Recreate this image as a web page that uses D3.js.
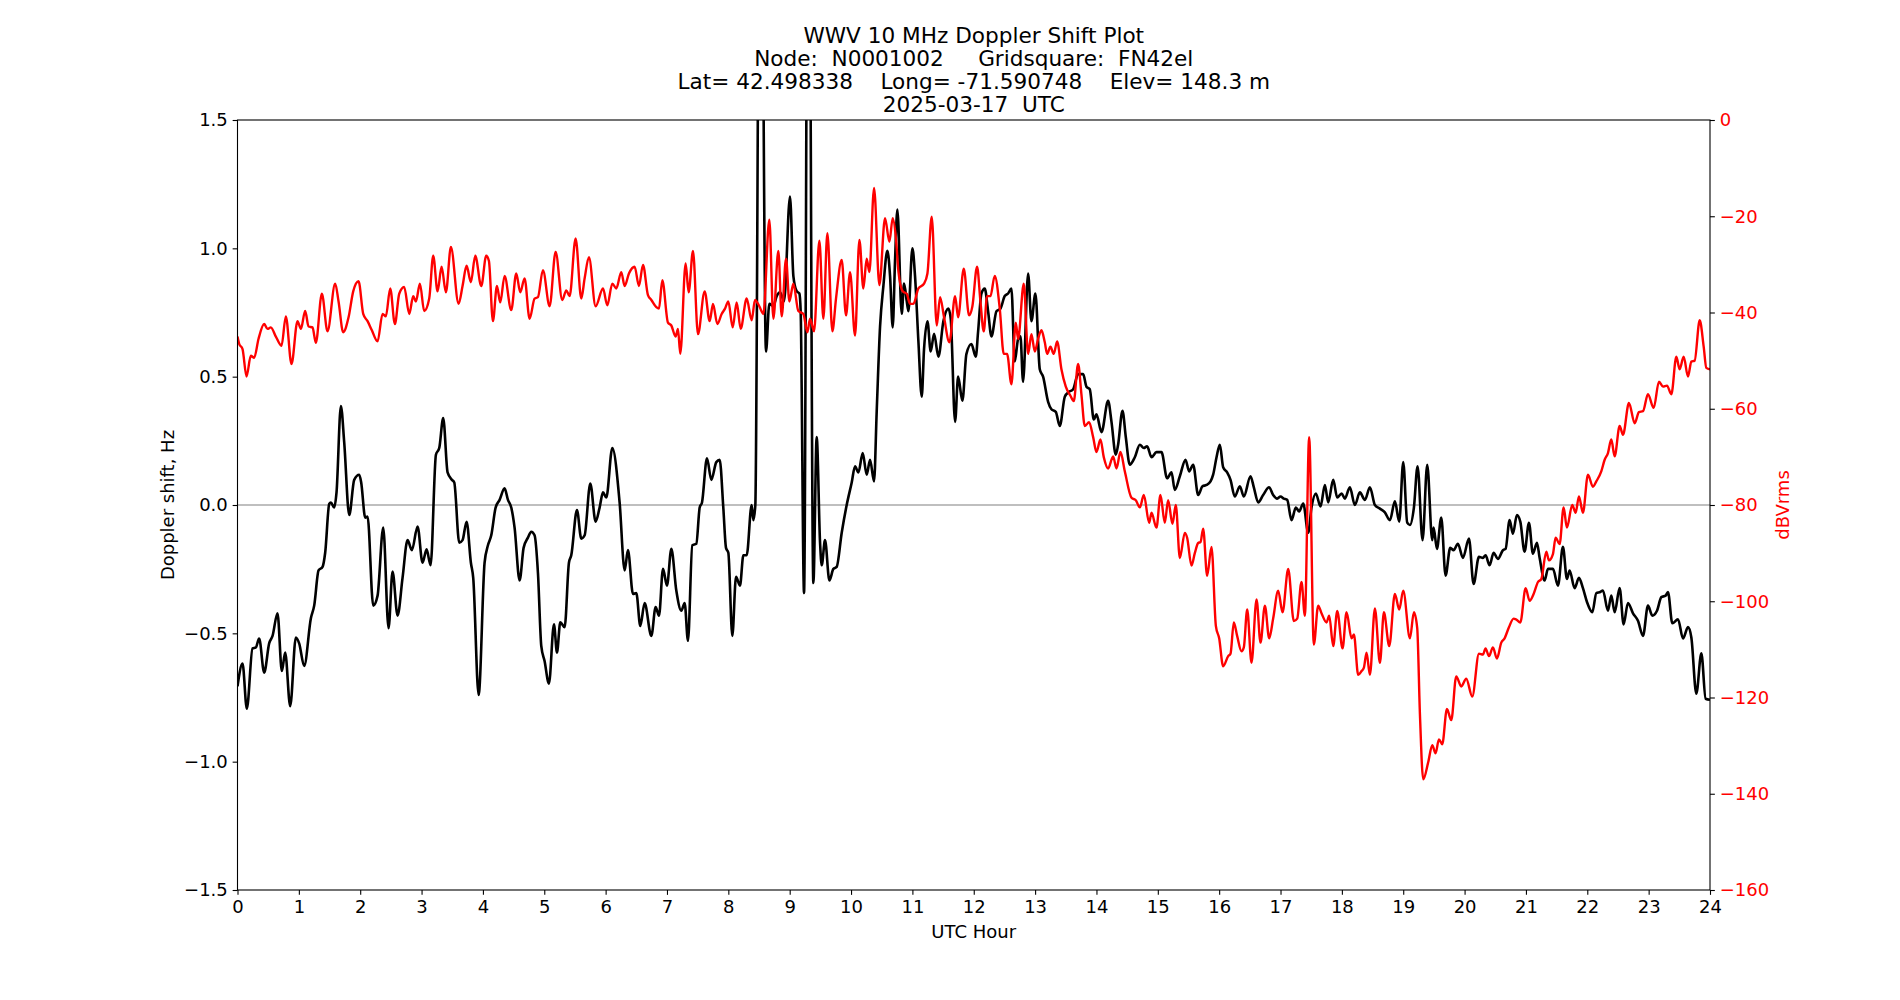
<!DOCTYPE html>
<html lang="en">
<head>
    <meta charset="UTF-8">
    <title>WWV 10 MHz Doppler Shift Plot</title>
    <script src="https://d3js.org/d3.v7.min.js"></script>
    <style>
        body { margin: 0; background: #fff; }
        text { font-family: "DejaVu Sans", sans-serif; }
    </style>
</head>
<body>
    <svg id="chart" width="1900" height="1000"></svg>

    <script>
        // Doppler shift (Hz)
        const dopHours = [
            0.000, 0.082, 0.152, 0.245, 0.299, 0.353, 0.435, 0.516, 0.571, 0.652, 0.723, 0.777, 0.859, 0.951,
            1.005, 1.087, 1.196, 1.250, 1.321, 1.386, 1.429, 1.495, 1.522, 1.576, 1.614, 1.685, 1.739, 1.821, 1.902, 1.984,
            2.016, 2.082, 2.120, 2.212, 2.283, 2.375, 2.462, 2.527, 2.609, 2.690, 2.772, 2.842, 2.935,
            3.016, 3.082, 3.147, 3.234, 3.288, 3.353, 3.424, 3.495, 3.533, 3.614, 3.668, 3.734, 3.804, 3.842, 3.930,
            4.027, 4.082, 4.136, 4.207, 4.272, 4.353, 4.408, 4.462, 4.516, 4.598, 4.663, 4.734, 4.788, 4.842, 4.897, 4.951,
            5.005, 5.076, 5.158, 5.207, 5.261, 5.332, 5.402, 5.440, 5.533, 5.603, 5.658, 5.750, 5.837, 5.902, 5.957,
            6.011, 6.109, 6.228, 6.310, 6.364, 6.446, 6.500, 6.565, 6.636, 6.745, 6.815, 6.870, 6.935,
            7.000, 7.071, 7.152, 7.234, 7.288, 7.342, 7.413, 7.478, 7.533, 7.571, 7.652, 7.723, 7.804, 7.859, 7.918, 7.962,
            8.000, 8.065, 8.125, 8.190, 8.245, 8.299, 8.380, 8.408, 8.440, 8.522, 8.614, 8.668, 8.734, 8.788, 8.842, 8.908,
            9.005, 9.060, 9.114, 9.158, 9.179, 9.234, 9.304, 9.386, 9.440, 9.495, 9.522, 9.576, 9.647, 9.712, 9.766, 9.848, 9.929,
            10.011, 10.065, 10.120, 10.190, 10.255, 10.310, 10.375, 10.418, 10.473, 10.527, 10.592, 10.636, 10.679, 10.717, 10.755, 10.826, 10.864, 10.908, 10.935,
            11.000, 11.043, 11.098, 11.152, 11.190, 11.245, 11.299, 11.353, 11.424, 11.505, 11.587, 11.625, 11.696, 11.745, 11.815, 11.880, 11.962,
            12.033, 12.071, 12.125, 12.179, 12.234, 12.288, 12.370, 12.435, 12.505, 12.560, 12.614, 12.668, 12.723, 12.761, 12.804, 12.886, 12.940,
            13.005, 13.076, 13.130, 13.212, 13.266, 13.337, 13.402, 13.484, 13.554, 13.620, 13.701, 13.783, 13.837, 13.891, 13.957,
            14.000, 14.082, 14.190, 14.245, 14.315, 14.353, 14.424, 14.478, 14.543, 14.625, 14.707, 14.772, 14.826, 14.897, 14.978,
            15.060, 15.152, 15.223, 15.277, 15.359, 15.451, 15.511, 15.576, 15.658, 15.728, 15.793, 15.859, 15.902, 15.957,
            16.011, 16.065, 16.130, 16.185, 16.255, 16.337, 16.402, 16.511, 16.565, 16.636, 16.717, 16.815, 16.880, 16.946,
            17.000, 17.054, 17.109, 17.179, 17.250, 17.304, 17.370, 17.451, 17.505, 17.576, 17.652, 17.723, 17.777, 17.859, 17.924, 17.995,
            18.049, 18.130, 18.212, 18.293, 18.375, 18.457, 18.538, 18.620, 18.701, 18.783, 18.864, 18.935,
            19.000, 19.065, 19.109, 19.174, 19.234, 19.315, 19.391, 19.473, 19.495, 19.549, 19.620, 19.690, 19.766, 19.821, 19.891, 19.973,
            20.071, 20.147, 20.234, 20.299, 20.342, 20.408, 20.473, 20.543, 20.625, 20.668, 20.734, 20.788, 20.853, 20.908, 20.978,
            21.049, 21.114, 21.179, 21.223, 21.304, 21.359, 21.440, 21.522, 21.603, 21.668, 21.712, 21.793, 21.864, 21.929, 21.995,
            22.082, 22.147, 22.212, 22.255, 22.337, 22.391, 22.446, 22.527, 22.592, 22.663, 22.745, 22.826, 22.908, 22.989,
            23.060, 23.136, 23.207, 23.277, 23.315, 23.386, 23.478, 23.560, 23.641, 23.696, 23.777, 23.859, 23.929, 24.000
        ];
        const dopHz = [
            -0.706, -0.618, -0.794, -0.559, -0.555, -0.520, -0.653, -0.539, -0.510, -0.422, -0.647, -0.575, -0.784, -0.516,
            -0.539, -0.627, -0.441, -0.392, -0.255, -0.241, -0.186, 0.004, 0.010, -0.010, 0.049, 0.386, 0.245, -0.039, 0.098, 0.118,
            0.088, -0.049, -0.045, -0.392, -0.353, -0.088, -0.480, -0.259, -0.431, -0.284, -0.137, -0.176, -0.084,
            -0.225, -0.173, -0.235, 0.196, 0.222, 0.339, 0.127, 0.098, 0.088, -0.147, -0.137, -0.065, -0.225, -0.284, -0.740,
            -0.225, -0.157, -0.118, -0.010, 0.020, 0.065, 0.020, -0.010, -0.088, -0.294, -0.167, -0.127, -0.104, -0.118, -0.265, -0.549,
            -0.608, -0.696, -0.465, -0.575, -0.457, -0.476, -0.225, -0.196, -0.020, -0.131, -0.118, 0.084, -0.065, -0.010, 0.049,
            0.029, 0.222, 0.010, -0.255, -0.176, -0.347, -0.343, -0.471, -0.382, -0.510, -0.398, -0.431, -0.249,
            -0.314, -0.171, -0.333, -0.412, -0.382, -0.529, -0.157, -0.151, -0.010, 0.010, 0.182, 0.098, 0.167, 0.176, -0.010, -0.167,
            -0.186, -0.510, -0.280, -0.314, -0.196, -0.196, 0.000, -0.059, 0.000, 3.0, 0.598, 0.784, 0.775, 0.814, 0.829, 0.794,
            1.202, 0.892, 0.833, 0.824, 0.755, -0.343, 3.0, -0.304, 0.265, -0.147, -0.235, -0.137, -0.294, -0.249, -0.241, -0.108, 0.000,
            0.088, 0.151, 0.127, 0.202, 0.118, 0.176, 0.092, 0.363, 0.696, 0.853, 0.990, 0.892, 0.692, 0.951, 1.151, 0.745, 0.863, 0.794, 0.755,
            1.000, 0.892, 0.637, 0.422, 0.608, 0.716, 0.598, 0.667, 0.578, 0.716, 0.765, 0.725, 0.324, 0.500, 0.406, 0.588, 0.627,
            0.578, 0.676, 0.824, 0.843, 0.755, 0.657, 0.755, 0.765, 0.814, 0.824, 0.843, 0.559, 0.647, 0.657, 0.480, 0.902, 0.716,
            0.824, 0.529, 0.500, 0.402, 0.373, 0.363, 0.308, 0.422, 0.441, 0.451, 0.510, 0.510, 0.461, 0.451, 0.333,
            0.353, 0.284, 0.406, 0.324, 0.196, 0.235, 0.367, 0.265, 0.157, 0.186, 0.235, 0.222, 0.229, 0.186, 0.206,
            0.206, 0.104, 0.127, 0.059, 0.112, 0.176, 0.131, 0.157, 0.039, 0.073, 0.078, 0.092, 0.118, 0.186,
            0.235, 0.147, 0.127, 0.098, 0.033, 0.073, 0.033, 0.112, 0.069, 0.010, 0.039, 0.069, 0.039, 0.025,
            0.033, 0.025, 0.020, -0.059, -0.010, -0.025, 0.006, -0.108, -0.010, 0.045, -0.006, 0.078, 0.010, 0.098, 0.029, 0.045,
            0.025, 0.069, 0.000, 0.049, 0.020, 0.069, 0.000, -0.014, -0.029, -0.059, 0.014, -0.065,
            0.167, -0.069, -0.078, -0.010, 0.151, -0.137, 0.157, -0.137, -0.088, -0.171, -0.049, -0.275, -0.167, -0.176, -0.151, -0.206,
            -0.131, -0.308, -0.202, -0.206, -0.196, -0.235, -0.186, -0.210, -0.176, -0.171, -0.059, -0.112, -0.039, -0.065, -0.182,
            -0.069, -0.190, -0.147, -0.206, -0.294, -0.249, -0.249, -0.314, -0.163, -0.288, -0.255, -0.324, -0.284, -0.324, -0.378,
            -0.418, -0.343, -0.339, -0.333, -0.412, -0.353, -0.418, -0.324, -0.465, -0.382, -0.422, -0.451, -0.510, -0.392,
            -0.431, -0.412, -0.359, -0.353, -0.339, -0.461, -0.445, -0.520, -0.476, -0.516, -0.735, -0.578, -0.755, -0.759
        ];

        // Received level (dBVrms)
        const dbHours = [
            0.000, 0.027, 0.082, 0.147, 0.217, 0.272, 0.342, 0.435, 0.489, 0.543, 0.625, 0.717, 0.788, 0.880, 0.978,
            1.033, 1.103, 1.158, 1.223, 1.277, 1.375, 1.467, 1.592, 1.647, 1.723, 1.810, 1.886, 1.973,
            2.049, 2.120, 2.190, 2.283, 2.364, 2.418, 2.489, 2.565, 2.636, 2.717, 2.799, 2.864, 2.908, 2.973,
            3.043, 3.125, 3.190, 3.261, 3.326, 3.397, 3.478, 3.603, 3.668, 3.734, 3.804, 3.875, 3.973,
            4.054, 4.098, 4.163, 4.228, 4.283, 4.353, 4.462, 4.543, 4.609, 4.679, 4.761, 4.842, 4.897, 4.978,
            5.087, 5.185, 5.293, 5.359, 5.413, 5.511, 5.603, 5.658, 5.728, 5.837, 5.957,
            6.027, 6.109, 6.174, 6.255, 6.310, 6.380, 6.473, 6.543, 6.609, 6.690, 6.745, 6.826, 6.870, 6.924,
            7.016, 7.071, 7.141, 7.179, 7.217, 7.304, 7.353, 7.424, 7.505, 7.614, 7.696, 7.750, 7.821, 7.891, 7.946,
            8.000, 8.071, 8.136, 8.201, 8.299, 8.380, 8.435, 8.505, 8.571, 8.668, 8.734, 8.815, 8.870, 8.940, 8.995,
            9.060, 9.141, 9.223, 9.288, 9.332, 9.397, 9.484, 9.549, 9.614, 9.696, 9.755, 9.848, 9.918, 9.984,
            10.065, 10.136, 10.201, 10.255, 10.299, 10.375, 10.462, 10.554, 10.625, 10.679, 10.734, 10.772, 10.842, 10.908, 10.962,
            11.016, 11.098, 11.190, 11.245, 11.315, 11.397, 11.451, 11.516, 11.603, 11.696, 11.745, 11.837, 11.924, 11.978,
            12.054, 12.109, 12.163, 12.217, 12.272, 12.342, 12.424, 12.489, 12.543, 12.614, 12.685, 12.723, 12.815, 12.886, 12.940, 12.995,
            13.049, 13.103, 13.158, 13.196, 13.250, 13.304, 13.359, 13.429, 13.500, 13.576, 13.630, 13.701, 13.755, 13.810, 13.880, 13.946,
            14.000, 14.065, 14.120, 14.190, 14.272, 14.326, 14.391, 14.462, 14.571, 14.641, 14.707, 14.772, 14.859, 14.897, 14.978,
            15.043, 15.114, 15.168, 15.239, 15.293, 15.359, 15.440, 15.478, 15.549, 15.603, 15.658, 15.696, 15.739, 15.804, 15.875, 15.946,
            16.000, 16.065, 16.147, 16.185, 16.239, 16.293, 16.364, 16.402, 16.457, 16.527, 16.609, 16.674, 16.745, 16.815, 16.880, 16.962,
            17.033, 17.125, 17.217, 17.272, 17.342, 17.397, 17.467, 17.543, 17.614, 17.668, 17.750, 17.793, 17.859, 17.924,
            18.011, 18.076, 18.158, 18.196, 18.266, 18.321, 18.359, 18.402, 18.457, 18.538, 18.620, 18.685, 18.772, 18.864, 18.935,
            19.000, 19.109, 19.174, 19.228, 19.272, 19.326, 19.408, 19.473, 19.527, 19.582, 19.636, 19.712, 19.783, 19.864, 19.946,
            20.027, 20.125, 20.234, 20.299, 20.342, 20.397, 20.462, 20.527, 20.598, 20.652, 20.723, 20.799, 20.842, 20.908, 20.995,
            21.060, 21.125, 21.196, 21.250, 21.332, 21.375, 21.440, 21.484, 21.549, 21.614, 21.668, 21.755, 21.810, 21.864, 21.929,
            22.011, 22.092, 22.147, 22.228, 22.283, 22.337, 22.391, 22.446, 22.527, 22.582, 22.679, 22.772, 22.842, 22.908, 22.989,
            23.082, 23.168, 23.234, 23.299, 23.370, 23.451, 23.505, 23.571, 23.641, 23.696, 23.750, 23.832, 23.897, 23.940, 24.000
        ];
        const dbVals = [
            -45.0, -46.5, -47.6, -53.3, -49.0, -49.4, -45.5, -42.4, -43.4, -43.1, -45.0, -46.9, -40.8, -50.7, -41.8,
            -43.4, -39.7, -42.9, -43.1, -46.3, -36.1, -43.9, -34.0, -37.7, -44.1, -41.0, -35.6, -33.5,
            -40.3, -41.8, -43.7, -46.0, -40.3, -40.8, -35.0, -42.4, -36.1, -34.7, -40.3, -36.6, -37.7, -34.0,
            -39.7, -37.1, -28.2, -35.6, -30.5, -35.8, -26.4, -38.2, -34.5, -30.3, -33.7, -28.2, -34.5,
            -28.2, -29.3, -41.8, -34.5, -37.9, -32.4, -39.5, -31.9, -35.8, -32.9, -41.3, -37.1, -36.8, -31.2,
            -38.7, -27.4, -37.4, -35.4, -36.6, -24.6, -37.1, -32.9, -28.5, -38.7, -35.0,
            -38.5, -34.0, -35.0, -31.6, -34.5, -31.9, -30.5, -34.5, -30.1, -36.4, -37.4, -38.9, -39.2, -33.3,
            -42.1, -42.7, -45.0, -43.4, -48.6, -29.8, -35.8, -27.2, -44.5, -35.6, -41.8, -38.2, -42.4, -40.3, -39.2,
            -37.7, -43.1, -37.9, -43.4, -37.1, -41.6, -37.4, -38.7, -40.3, -20.7, -41.3, -27.2, -40.8, -28.8, -37.7,
            -34.0, -39.7, -40.3, -44.1, -41.3, -43.9, -25.1, -41.3, -23.5, -43.9, -37.1, -29.1, -40.6, -31.6,
            -44.8, -24.9, -35.0, -28.8, -31.6, -14.1, -34.3, -20.4, -25.3, -20.4, -24.9, -31.4, -35.6, -36.1, -38.2,
            -38.2, -35.0, -34.0, -31.9, -20.1, -42.7, -36.8, -41.0, -46.2, -36.6, -41.0, -30.9, -40.6, -38.7,
            -30.5, -37.7, -43.9, -36.6, -36.6, -32.4, -39.2, -48.6, -48.6, -54.9, -42.1, -45.5, -34.0, -48.6, -44.5, -48.1,
            -45.5, -43.7, -46.2, -48.6, -47.1, -48.6, -46.0, -51.8, -55.4, -57.3, -58.4, -50.7, -57.0, -63.6, -62.8, -65.9,
            -69.0, -66.4, -70.1, -72.4, -69.9, -72.4, -69.0, -73.0, -78.5, -79.0, -80.5, -77.9, -83.7, -81.6, -84.7,
            -77.9, -83.7, -79.0, -83.9, -80.0, -91.0, -85.8, -86.8, -92.6, -90.0, -87.9, -87.7, -84.9, -94.7, -88.7, -105.1,
            -107.7, -113.5, -111.4, -110.9, -104.4, -107.2, -110.4, -109.6, -101.7, -112.8, -99.6, -108.6, -100.9, -107.7, -103.6, -97.8,
            -102.3, -93.3, -104.1, -103.6, -96.0, -103.0, -65.9, -109.0, -100.9, -102.5, -104.4, -103.0, -109.3, -102.0,
            -109.8, -102.3, -107.7, -106.9, -115.3, -114.5, -113.8, -110.7, -115.3, -101.5, -112.8, -102.3, -109.3, -98.5, -101.7,
            -97.8, -107.7, -102.3, -105.6, -123.4, -137.0, -133.4, -129.9, -131.6, -128.7, -129.7, -122.4, -124.7, -115.6, -117.7,
            -116.1, -119.8, -110.9, -111.1, -109.8, -111.4, -109.6, -111.9, -108.6, -107.7, -105.4, -103.6, -103.8, -104.4, -97.3,
            -99.9, -98.5, -96.0, -95.4, -89.7, -91.5, -90.2, -86.8, -88.1, -80.5, -84.7, -80.0, -81.6, -78.2, -81.6,
            -73.7, -76.2, -75.1, -73.0, -70.6, -69.2, -66.4, -69.9, -63.6, -65.4, -58.8, -63.0, -60.7, -60.5, -57.0,
            -59.8, -54.4, -55.4, -55.2, -57.0, -49.2, -51.8, -49.2, -53.3, -50.2, -50.0, -41.6, -47.1, -51.5, -51.8
        ];

        // Axis ticks
        const hourTicks = d3.range(0, 25);
        const hzTicks = [-1.5, -1.0, -0.5, 0.0, 0.5, 1.0, 1.5];
        const dbTicks = [-160, -140, -120, -100, -80, -60, -40, -20, 0];

        const titleLines = [
            "WWV 10 MHz Doppler Shift Plot",
            "Node:  N0001002     Gridsquare:  FN42el",
            "Lat= 42.498338    Long= -71.590748    Elev= 148.3 m",
            "2025-03-17  UTC"
        ];

        // plot box, like matplotlib defaults on a 19x10 figure
        const plotLeft = 237.5, plotRight = 1710, plotTop = 120, plotBottom = 890;
        const tickLen = 4.86, fontSize = 18;

        const svg = d3.select("#chart");

        const x = d3.scaleLinear().domain([0, 24]).range([plotLeft, plotRight]);
        const yHz = d3.scaleLinear().domain([-1.5, 1.5]).range([plotBottom, plotTop]);
        const yDb = d3.scaleLinear().domain([-160, 0]).range([plotBottom, plotTop]);

        svg.append("clipPath").attr("id", "plot-clip")
            .append("rect")
            .attr("x", plotLeft).attr("y", plotTop)
            .attr("width", plotRight - plotLeft).attr("height", plotBottom - plotTop);

        const plot = svg.append("g").attr("clip-path", "url(#plot-clip)");

        // zero line
        plot.append("line")
            .attr("x1", plotLeft).attr("x2", plotRight)
            .attr("y1", yHz(0)).attr("y2", yHz(0))
            .attr("stroke", "#808080")
            .attr("stroke-width", 1.2);

        const dopData = dopHours.map((h, i) => [h, dopHz[i]]);
        const dbData = dbHours.map((h, i) => [h, dbVals[i]]);

        plot.append("path")
            .datum(dopData)
            .attr("fill", "none")
            .attr("stroke", "black")
            .attr("stroke-width", 2.6)
            .attr("stroke-linejoin", "round")
            .attr("d", d3.line().x(d => x(d[0])).y(d => yHz(d[1])).curve(d3.curveMonotoneX));

        plot.append("path")
            .datum(dbData)
            .attr("fill", "none")
            .attr("stroke", "red")
            .attr("stroke-width", 2.4)
            .attr("stroke-linejoin", "round")
            .attr("d", d3.line().x(d => x(d[0])).y(d => yDb(d[1])).curve(d3.curveMonotoneX));

        // axes
        function styleAxis(g, color) {
            g.select(".domain").remove();
            g.selectAll(".tick line").attr("stroke", "black").attr("stroke-width", 1.1);
            g.selectAll(".tick text")
                .attr("fill", color)
                .style("font-family", "'DejaVu Sans', sans-serif")
                .style("font-size", fontSize + "px");
        }

        svg.append("g")
            .attr("transform", `translate(0,${plotBottom})`)
            .call(d3.axisBottom(x).tickValues(hourTicks).tickFormat(d3.format("d"))
                .tickSize(tickLen).tickPadding(tickLen))
            .call(g => styleAxis(g, "black"));

        svg.append("g")
            .attr("transform", `translate(${plotLeft},0)`)
            .call(d3.axisLeft(yHz).tickValues(hzTicks).tickFormat(d3.format(".1f"))
                .tickSize(tickLen).tickPadding(tickLen))
            .call(g => styleAxis(g, "black"));

        svg.append("g")
            .attr("transform", `translate(${plotRight},0)`)
            .call(d3.axisRight(yDb).tickValues(dbTicks).tickFormat(d3.format("d"))
                .tickSize(tickLen).tickPadding(tickLen))
            .call(g => styleAxis(g, "red"));

        // frame
        svg.append("rect")
            .attr("x", plotLeft).attr("y", plotTop)
            .attr("width", plotRight - plotLeft).attr("height", plotBottom - plotTop)
            .attr("fill", "none")
            .attr("stroke", "black")
            .attr("stroke-width", 1.1);

        // labels
        svg.append("text")
            .attr("x", (plotLeft + plotRight) / 2).attr("y", 938)
            .attr("text-anchor", "middle")
            .style("font-size", fontSize + "px")
            .text("UTC Hour");

        svg.append("text")
            .attr("transform", "translate(174,505) rotate(-90)")
            .attr("text-anchor", "middle")
            .style("font-size", fontSize + "px")
            .text("Doppler shift, Hz");

        svg.append("text")
            .attr("transform", "translate(1789,505) rotate(-90)")
            .attr("text-anchor", "middle")
            .attr("fill", "red")
            .style("font-size", fontSize + "px")
            .text("dBVrms");

        // title
        svg.append("text")
            .attr("text-anchor", "middle")
            .style("font-size", "21.6px")
            .style("white-space", "pre")
            .selectAll("tspan")
            .data(titleLines)
            .join("tspan")
            .attr("x", (plotLeft + plotRight) / 2)
            .attr("y", (d, i) => 42.5 + i * 23.3)
            .text(d => d);
    </script>
</body>
</html>
